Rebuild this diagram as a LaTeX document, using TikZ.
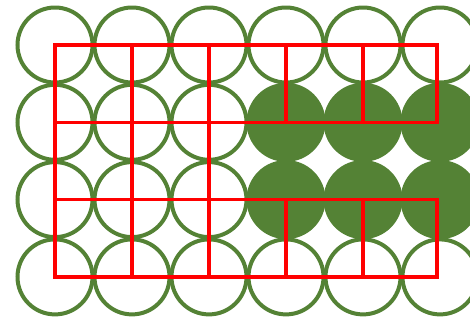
\documentclass[tikz,border=0pt]{standalone}
\usepackage{tikz}
\usetikzlibrary{positioning}
\definecolor{verdehoja}{HTML}{548235}
\tikzset{
  celda/.style={
    draw=verdehoja, circle, line width=4pt,
    minimum size=75pt, inner sep=0pt
  },
  llena/.style={celda, fill=verdehoja},
  rejilla/.style={draw=red, line width=3.5pt, line cap=rect},
}

\begin{document}
\begin{tikzpicture}[x=1pt,y=-1pt]
  \clip (0,0) rectangle (470,322);
  \foreach \f in {1,4}
    \foreach \c in {1,...,6}
      \node[celda] (c\f\c) at ({55+77*(\c-1)},{45+77.3*(\f-1)}) {};
  \foreach \f in {2,3}
    \foreach \c in {1,2,3}
      \node[celda] (c\f\c) at ({55+77*(\c-1)},{45+77.3*(\f-1)}) {};
  \foreach \f in {2,3}
    \foreach \c in {4,5,6}
      \node[llena] (c\f\c) at ({55+77*(\c-1)},{45+77.3*(\f-1)}) {};

  \foreach \f in {1,...,4}
    \foreach \c/\x in {1/55,2/132,3/209,4/286,5/363,6/437}
      \coordinate (r\f\c) at (\x,{45+77.3*(\f-1)});

  \foreach \f in {1,...,4}
    \draw[rejilla] (r\f1) -- (r\f6);
  \foreach \c in {1,2,3}
    \draw[rejilla] (r1\c) -- (r4\c);
  \foreach \c in {4,5,6}{
    \draw[rejilla] (r1\c) -- (r2\c);
    \draw[rejilla] (r3\c) -- (r4\c);
  }
\end{tikzpicture}
\end{document}
